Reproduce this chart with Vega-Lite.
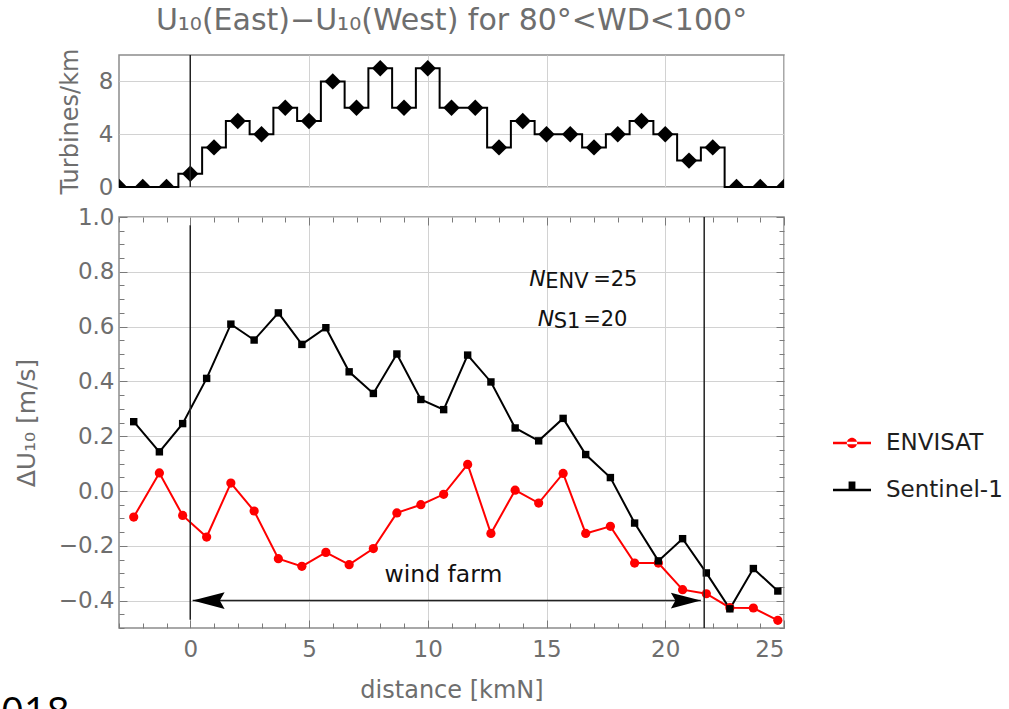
{
  "$schema": "https://vega.github.io/schema/vega-lite/v6.json",
  "padding": {"left": 0, "top": 5, "right": 5, "bottom": 0},
  "config": {
    "font": "DejaVu Sans",
    "view": {"stroke": "#8c8c8c", "strokeWidth": 1.5},
    "axis": {"labelFont": "DejaVu Sans", "titleFont": "DejaVu Sans", "labelColor": "#6e6e6e", "titleColor": "#6e6e6e", "labelFontSize": 23, "titleFontSize": 24, "titleFontWeight": "normal", "gridColor": "#d2d2d2", "gridWidth": 1, "tickColor": "#7a7a7a", "tickWidth": 1, "domain": false}
  },
  "resolve": {"scale": {"color": "independent"}, "legend": {"color": "independent"}},
  "datasets": {
    "top": [
      {"km": -3, "turbines": 0}, {"km": -2, "turbines": 0}, {"km": -1, "turbines": 0}, {"km": 0, "turbines": 1},
      {"km": 1, "turbines": 3}, {"km": 2, "turbines": 5}, {"km": 3, "turbines": 4}, {"km": 4, "turbines": 6},
      {"km": 5, "turbines": 5}, {"km": 6, "turbines": 8}, {"km": 7, "turbines": 6}, {"km": 8, "turbines": 9},
      {"km": 9, "turbines": 6}, {"km": 10, "turbines": 9}, {"km": 11, "turbines": 6}, {"km": 12, "turbines": 6},
      {"km": 13, "turbines": 3}, {"km": 14, "turbines": 5}, {"km": 15, "turbines": 4}, {"km": 16, "turbines": 4},
      {"km": 17, "turbines": 3}, {"km": 18, "turbines": 4}, {"km": 19, "turbines": 5}, {"km": 20, "turbines": 4},
      {"km": 21, "turbines": 2}, {"km": 22, "turbines": 3}, {"km": 23, "turbines": 0}, {"km": 24, "turbines": 0},
      {"km": 25, "turbines": 0}
    ],
    "bottom": [
      {"series": "ENVISAT", "d": -2.38, "du": -0.095}, {"series": "ENVISAT", "d": -1.3, "du": 0.066},
      {"series": "ENVISAT", "d": -0.32, "du": -0.089}, {"series": "ENVISAT", "d": 0.69, "du": -0.168},
      {"series": "ENVISAT", "d": 1.71, "du": 0.029}, {"series": "ENVISAT", "d": 2.69, "du": -0.073},
      {"series": "ENVISAT", "d": 3.71, "du": -0.247}, {"series": "ENVISAT", "d": 4.7, "du": -0.275},
      {"series": "ENVISAT", "d": 5.71, "du": -0.224}, {"series": "ENVISAT", "d": 6.69, "du": -0.269},
      {"series": "ENVISAT", "d": 7.71, "du": -0.21}, {"series": "ENVISAT", "d": 8.7, "du": -0.08},
      {"series": "ENVISAT", "d": 9.71, "du": -0.05}, {"series": "ENVISAT", "d": 10.67, "du": -0.012},
      {"series": "ENVISAT", "d": 11.68, "du": 0.097}, {"series": "ENVISAT", "d": 12.66, "du": -0.155},
      {"series": "ENVISAT", "d": 13.68, "du": 0.003}, {"series": "ENVISAT", "d": 14.67, "du": -0.044},
      {"series": "ENVISAT", "d": 15.7, "du": 0.064}, {"series": "ENVISAT", "d": 16.65, "du": -0.155},
      {"series": "ENVISAT", "d": 17.69, "du": -0.129}, {"series": "ENVISAT", "d": 18.71, "du": -0.263},
      {"series": "ENVISAT", "d": 19.71, "du": -0.263}, {"series": "ENVISAT", "d": 20.73, "du": -0.36},
      {"series": "ENVISAT", "d": 21.73, "du": -0.375}, {"series": "ENVISAT", "d": 22.72, "du": -0.426},
      {"series": "ENVISAT", "d": 23.71, "du": -0.427}, {"series": "ENVISAT", "d": 24.74, "du": -0.472},
      {"series": "Sentinel-1", "d": -2.38, "du": 0.253}, {"series": "Sentinel-1", "d": -1.3, "du": 0.143},
      {"series": "Sentinel-1", "d": -0.32, "du": 0.246}, {"series": "Sentinel-1", "d": 0.69, "du": 0.411},
      {"series": "Sentinel-1", "d": 1.71, "du": 0.609}, {"series": "Sentinel-1", "d": 2.69, "du": 0.551},
      {"series": "Sentinel-1", "d": 3.71, "du": 0.65}, {"series": "Sentinel-1", "d": 4.7, "du": 0.535},
      {"series": "Sentinel-1", "d": 5.71, "du": 0.596}, {"series": "Sentinel-1", "d": 6.69, "du": 0.435},
      {"series": "Sentinel-1", "d": 7.71, "du": 0.356}, {"series": "Sentinel-1", "d": 8.7, "du": 0.5},
      {"series": "Sentinel-1", "d": 9.71, "du": 0.334}, {"series": "Sentinel-1", "d": 10.67, "du": 0.297},
      {"series": "Sentinel-1", "d": 11.68, "du": 0.496}, {"series": "Sentinel-1", "d": 12.66, "du": 0.398},
      {"series": "Sentinel-1", "d": 13.68, "du": 0.23}, {"series": "Sentinel-1", "d": 14.67, "du": 0.183},
      {"series": "Sentinel-1", "d": 15.7, "du": 0.265}, {"series": "Sentinel-1", "d": 16.65, "du": 0.133},
      {"series": "Sentinel-1", "d": 17.69, "du": 0.049}, {"series": "Sentinel-1", "d": 18.71, "du": -0.117},
      {"series": "Sentinel-1", "d": 19.71, "du": -0.255}, {"series": "Sentinel-1", "d": 20.73, "du": -0.174},
      {"series": "Sentinel-1", "d": 21.73, "du": -0.299}, {"series": "Sentinel-1", "d": 22.72, "du": -0.43},
      {"series": "Sentinel-1", "d": 23.71, "du": -0.283}, {"series": "Sentinel-1", "d": 24.74, "du": -0.365}
    ]
  },
  "spacing": 5,
  "vconcat": [
    {
      "width": 665,
      "height": 132,
      "title": {"text": "U₁₀(East)−U₁₀(West) for 80°<WD<100°", "frame": "group", "anchor": "middle", "fontSize": 30, "font": "DejaVu Sans", "fontWeight": "normal", "color": "#6e6e6e", "offset": 12},
      "layer": [
        {
          "data": {"name": "top"},
          "mark": {"type": "line", "interpolate": "step", "color": "#000000", "strokeWidth": 2},
          "encoding": {
            "x": {"field": "km", "type": "quantitative", "scale": {"domain": [-3, 25], "nice": false, "zero": false},
                  "axis": {"values": [0, 5, 10, 15, 20, 25], "labels": false, "ticks": false, "title": null, "grid": true}},
            "y": {"field": "turbines", "type": "quantitative", "scale": {"domain": [0, 10], "nice": false},
                  "axis": {"values": [0, 2, 4, 6, 8, 10], "labelExpr": "datum.value % 4 === 0 && datum.value < 10 ? datum.label : ''", "ticks": false, "grid": true, "title": "Turbines/km", "titlePadding": 16, "labelPadding": 6}}
          }
        },
        {
          "data": {"name": "top"},
          "mark": {"type": "point", "shape": "diamond", "filled": true, "color": "#000000", "size": 270, "opacity": 1, "clip": true},
          "encoding": {
            "x": {"field": "km", "type": "quantitative"},
            "y": {"field": "turbines", "type": "quantitative"}
          }
        },
        {
          "data": {"values": [{}]},
          "mark": {"type": "rule", "color": "#222222", "strokeWidth": 1.5},
          "encoding": {
            "x": {"datum": 0, "type": "quantitative"},
            "y": {"datum": 0, "type": "quantitative"},
            "y2": {"datum": 10}
          }
        }
      ]
    },
    {
      "width": 665,
      "height": 411,
      "resolve": {"axis": {"x": "independent", "y": "independent"}},
      "layer": [
        {
          "data": {"name": "bottom"},
          "mark": {"type": "line", "strokeWidth": 2},
          "encoding": {
            "x": {"field": "d", "type": "quantitative", "scale": {"domain": [-3, 25], "nice": false, "zero": false},
                  "axis": {"orient": "bottom", "values": [-3, -2, -1, 0, 1, 2, 3, 4, 5, 6, 7, 8, 9, 10, 11, 12, 13, 14, 15, 16, 17, 18, 19, 20, 21, 22, 23, 24, 25],
                           "format": "d", "labelExpr": "datum.value % 5 === 0 ? datum.label : ''",
                           "grid": true, "gridOpacity": {"condition": {"test": "datum.value % 5 === 0", "value": 1}, "value": 0},
                           "tickSize": {"condition": {"test": "datum.value % 5 === 0", "value": -8}, "value": -5},
                           "labelPadding": 18, "title": "distance [kmN]", "titlePadding": 17}},
            "y": {"field": "du", "type": "quantitative", "scale": {"domain": [-0.5, 1.0], "nice": false, "zero": false},
                  "axis": {"orient": "left", "values": [-0.5, -0.45, -0.4, -0.35, -0.3, -0.25, -0.2, -0.15, -0.1, -0.05, 0, 0.05, 0.1, 0.15, 0.2, 0.25, 0.3, 0.35, 0.4, 0.45, 0.5, 0.55, 0.6, 0.65, 0.7, 0.75, 0.8, 0.85, 0.9, 0.95, 1.0],
                           "format": ".1f", "labelExpr": "abs(datum.value*5 - round(datum.value*5)) < 0.001 ? datum.label : ''",
                           "grid": true, "gridOpacity": {"condition": {"test": "abs(datum.value*5 - round(datum.value*5)) < 0.001", "value": 1}, "value": 0},
                           "tickSize": {"condition": {"test": "abs(datum.value*5 - round(datum.value*5)) < 0.001", "value": -8}, "value": -5},
                           "labelPadding": 13, "title": "ΔU₁₀ [m/s]", "titleFontSize": 25, "titlePadding": 19}},
            "color": {"field": "series", "type": "nominal", "scale": {"domain": ["ENVISAT", "Sentinel-1"], "range": ["#ff0000", "#000000"]},
                      "legend": {"orient": "none", "legendX": 714, "legendY": 207, "title": null, "padding": 0,
                                 "symbolSize": 1444, "labelFont": "DejaVu Sans", "labelFontSize": 23, "labelColor": "#1e1e1e", "labelOffset": 15, "rowPadding": 16,
                                 "encode": {"symbols": {"update": {
                                   "shape": {"signal": "datum.value === 'ENVISAT' ? 'M-1,-0.065H1V0.065H-1Z M-0.27,0A0.27,0.27 0 1,0 0.27,0A0.27,0.27 0 1,0 -0.27,0Z' : 'M-1,-0.065H1V0.065H-1Z M-0.18,-0.45H0.18V0H-0.18Z'"},
                                   "fill": {"signal": "datum.value === 'ENVISAT' ? '#ff0000' : '#000000'"},
                                   "stroke": {"value": "transparent"},
                                   "strokeWidth": {"value": 0},
                                   "opacity": {"value": 1}
                                 }}}}}
          }
        },
        {
          "data": {"name": "bottom"},
          "transform": [{"filter": "datum.series === 'ENVISAT'"}],
          "mark": {"type": "point", "shape": "circle", "filled": true, "color": "#ff0000", "size": 85, "opacity": 1},
          "encoding": {
            "x": {"field": "d", "type": "quantitative", "axis": null},
            "y": {"field": "du", "type": "quantitative", "axis": null}
          }
        },
        {
          "data": {"name": "bottom"},
          "transform": [{"filter": "datum.series === 'Sentinel-1'"}],
          "mark": {"type": "point", "shape": "square", "filled": true, "color": "#000000", "size": 55, "opacity": 1},
          "encoding": {
            "x": {"field": "d", "type": "quantitative", "axis": null},
            "y": {"field": "du", "type": "quantitative", "axis": null}
          }
        },
        {
          "data": {"values": [{}]},
          "mark": {"type": "rule", "color": "#222222", "strokeWidth": 1.5},
          "encoding": {
            "x": {"datum": 0, "type": "quantitative", "axis": null},
            "y": {"datum": -0.47, "type": "quantitative", "axis": null},
            "y2": {"datum": 0.97}
          }
        },
        {
          "data": {"values": [{}]},
          "mark": {"type": "rule", "color": "#222222", "strokeWidth": 1.5},
          "encoding": {
            "x": {"datum": 21.64, "type": "quantitative", "axis": null},
            "y": {"datum": -0.5, "type": "quantitative", "axis": null},
            "y2": {"datum": 1.0}
          }
        },
        {
          "data": {"values": [{}]},
          "mark": {"type": "rule", "color": "#222222", "strokeWidth": 1.5},
          "encoding": {
            "x": {"datum": 0.1, "type": "quantitative", "axis": null},
            "x2": {"datum": 21.5},
            "y": {"datum": -0.4, "type": "quantitative", "axis": null}
          }
        },
        {
          "data": {"values": [{}]},
          "mark": {"type": "point", "shape": "M0,0L2,-0.52L1.7,0L2,0.52Z", "filled": true, "color": "#000000", "size": 1024, "opacity": 1},
          "encoding": {
            "x": {"datum": 0.1, "type": "quantitative", "axis": null},
            "y": {"datum": -0.4, "type": "quantitative", "axis": null}
          }
        },
        {
          "data": {"values": [{}]},
          "mark": {"type": "point", "shape": "M0,0L-2,-0.52L-1.7,0L-2,0.52Z", "filled": true, "color": "#000000", "size": 900, "opacity": 1},
          "encoding": {
            "x": {"datum": 21.5, "type": "quantitative", "axis": null},
            "y": {"datum": -0.4, "type": "quantitative", "axis": null}
          }
        },
        {
          "data": {"values": [{}]},
          "mark": {"type": "text", "text": "wind farm", "fontSize": 23.5, "align": "center", "baseline": "alphabetic", "color": "#111111"},
          "encoding": {
            "x": {"datum": 10.66, "type": "quantitative", "axis": null},
            "y": {"datum": -0.332, "type": "quantitative", "axis": null}
          }
        },
        {
          "data": {"values": [{}]},
          "mark": {"type": "text", "text": "N", "fontStyle": "italic", "fontSize": 22, "align": "left", "baseline": "alphabetic", "color": "#111111"},
          "encoding": {
            "x": {"datum": 14.27, "type": "quantitative", "axis": null},
            "y": {"datum": 0.749, "type": "quantitative", "axis": null}
          }
        },
        {
          "data": {"values": [{}]},
          "mark": {"type": "text", "text": "ENV", "fontSize": 21, "align": "left", "baseline": "alphabetic", "color": "#111111", "dx": 16, "dy": 2.6},
          "encoding": {
            "x": {"datum": 14.27, "type": "quantitative", "axis": null},
            "y": {"datum": 0.749, "type": "quantitative", "axis": null}
          }
        },
        {
          "data": {"values": [{}]},
          "mark": {"type": "text", "text": "=25", "fontSize": 21, "align": "left", "baseline": "alphabetic", "color": "#111111", "dx": 64},
          "encoding": {
            "x": {"datum": 14.27, "type": "quantitative", "axis": null},
            "y": {"datum": 0.749, "type": "quantitative", "axis": null}
          }
        },
        {
          "data": {"values": [{}]},
          "mark": {"type": "text", "text": "N", "fontStyle": "italic", "fontSize": 22, "align": "left", "baseline": "alphabetic", "color": "#111111", "dx": 8.5},
          "encoding": {
            "x": {"datum": 14.27, "type": "quantitative", "axis": null},
            "y": {"datum": 0.603, "type": "quantitative", "axis": null}
          }
        },
        {
          "data": {"values": [{}]},
          "mark": {"type": "text", "text": "S1", "fontSize": 21, "align": "left", "baseline": "alphabetic", "color": "#111111", "dx": 24.5, "dy": 2.5},
          "encoding": {
            "x": {"datum": 14.27, "type": "quantitative", "axis": null},
            "y": {"datum": 0.603, "type": "quantitative", "axis": null}
          }
        },
        {
          "data": {"values": [{}]},
          "mark": {"type": "text", "text": "=20", "fontSize": 21, "align": "left", "baseline": "alphabetic", "color": "#111111", "dx": 54},
          "encoding": {
            "x": {"datum": 14.27, "type": "quantitative", "axis": null},
            "y": {"datum": 0.603, "type": "quantitative", "axis": null}
          }
        },
        {
          "data": {"values": [{}]},
          "mark": {"type": "text", "text": "018", "font": "Open Sans", "fontSize": 40, "align": "left", "baseline": "alphabetic", "color": "#000000", "dx": -118, "dy": 98},
          "encoding": {
            "x": {"datum": -3, "type": "quantitative", "axis": null},
            "y": {"datum": -0.5, "type": "quantitative", "axis": null}
          }
        },
        {
          "data": {"name": "bottom"},
          "mark": {"type": "point", "opacity": 0},
          "encoding": {
            "x": {"field": "d", "type": "quantitative",
                  "axis": {"orient": "top", "values": [-3, -2, -1, 0, 1, 2, 3, 4, 5, 6, 7, 8, 9, 10, 11, 12, 13, 14, 15, 16, 17, 18, 19, 20, 21, 22, 23, 24, 25],
                           "labels": false, "grid": false, "title": null,
                           "tickSize": {"condition": {"test": "datum.value % 5 === 0", "value": -8}, "value": -5}}},
            "y": {"field": "du", "type": "quantitative",
                  "axis": {"orient": "right", "values": [-0.5, -0.45, -0.4, -0.35, -0.3, -0.25, -0.2, -0.15, -0.1, -0.05, 0, 0.05, 0.1, 0.15, 0.2, 0.25, 0.3, 0.35, 0.4, 0.45, 0.5, 0.55, 0.6, 0.65, 0.7, 0.75, 0.8, 0.85, 0.9, 0.95, 1.0],
                           "labels": false, "grid": false, "title": null,
                           "tickSize": {"condition": {"test": "abs(datum.value*5 - round(datum.value*5)) < 0.001", "value": -8}, "value": -5}}}
          }
        }
      ]
    }
  ]
}
